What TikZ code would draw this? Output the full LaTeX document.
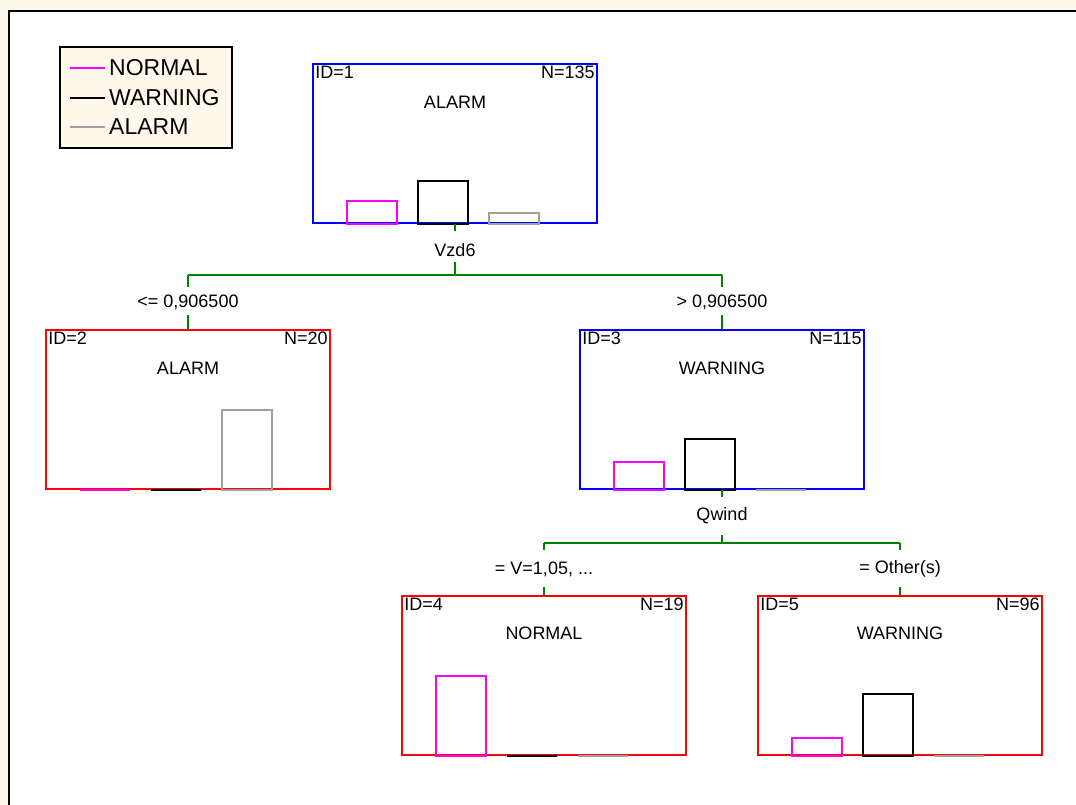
\documentclass[tikz,border=0pt]{standalone}
\usepackage{fontspec}
\setmainfont{Liberation Sans}
\usepackage{tikz}

\definecolor{paper}{HTML}{FFF9EC}
\definecolor{splitgreen}{HTML}{008000}
\definecolor{barpink}{HTML}{FF00FF}
\definecolor{bargray}{HTML}{A0A0A0}
\definecolor{boxblue}{HTML}{0000FF}
\definecolor{boxred}{HTML}{FF0000}

\tikzset{
  treebox/.style={draw, line width=1.6pt, minimum width=284pt, minimum height=159pt, inner sep=0pt},
  branch/.style={splitgreen, line width=1.5pt},
  lbl/.style={font=\fontsize{18}{20}\selectfont, inner sep=1pt},
  corner/.style={font=\fontsize{18}{20}\selectfont, inner sep=3pt},
  bar/.style={line width=1.7pt},
}
% three class bars on the bottom edge of a tree box
\newcommand{\histbars}[4]{%
  \draw[bar, barpink]  ([xshift=35pt]#1.south west)  rectangle ++(50,-#2);
  \draw[bar, black]    ([xshift=106pt]#1.south west) rectangle ++(50,-#3);
  \draw[bar, bargray]  ([xshift=177pt]#1.south west) rectangle ++(50,-#4);
}

\begin{document}
\begin{tikzpicture}[x=1pt, y=-1pt, font=\fontsize{18}{20}\selectfont]
    \useasboundingbox (0,0) rectangle (1076,805);
    \clip (0,0) rectangle (1076,805);
    \fill[paper] (0,0) rectangle (1076,805);
    \draw[line width=2pt, fill=white] (9,11) rectangle (1090,820);

    % legend
    \node[draw, fill=paper, line width=1.8pt, minimum width=172pt, minimum height=101pt, inner sep=0pt] (legend) at (146,97.5) {};
    \foreach \cls/\col/\yy in {NORMAL/barpink/68, WARNING/black/98, ALARM/bargray/127} {
      \draw[\col, line width=1.4pt] (70,\yy) -- (105,\yy);
      \node[font=\fontsize{23}{25}\selectfont, anchor=west, inner sep=1pt] (key\cls) at (108,\yy) {\cls};
    }

    % tree boxes
    \node[treebox, boxblue] (n1) at (455,143.5) {};
    \node[treebox, boxred]  (n2) at (188,409.5) {};
    \node[treebox, boxblue] (n3) at (722,409.5) {};
    \node[treebox, boxred]  (n4) at (544,675.5) {};
    \node[treebox, boxred]  (n5) at (900,675.5) {};

    \node[corner, anchor=north west] (id1) at (n1.north west) {ID=1};
    \node[corner, anchor=north east] (cnt1) at (n1.north east) {N=135};
    \node[lbl] (cls1) at ([yshift=-39pt]n1.north) {ALARM};
    \node[corner, anchor=north west] (id2) at (n2.north west) {ID=2};
    \node[corner, anchor=north east] (cnt2) at (n2.north east) {N=20};
    \node[lbl] (cls2) at ([yshift=-39pt]n2.north) {ALARM};
    \node[corner, anchor=north west] (id3) at (n3.north west) {ID=3};
    \node[corner, anchor=north east] (cnt3) at (n3.north east) {N=115};
    \node[lbl] (cls3) at ([yshift=-39pt]n3.north) {WARNING};
    \node[corner, anchor=north west] (id4) at (n4.north west) {ID=4};
    \node[corner, anchor=north east] (cnt4) at (n4.north east) {N=19};
    \node[lbl] (cls4) at ([yshift=-38pt]n4.north) {NORMAL};
    \node[corner, anchor=north west] (id5) at (n5.north west) {ID=5};
    \node[corner, anchor=north east] (cnt5) at (n5.north east) {N=96};
    \node[lbl] (cls5) at ([yshift=-38pt]n5.north) {WARNING};

    \histbars{n1}{23}{43}{11}
    \histbars{n2}{0}{0}{80}
    \histbars{n3}{28}{51}{0}
    \histbars{n4}{80}{0}{0}
    \histbars{n5}{18}{62}{0}

    % first split
    \node[lbl] (vzd) at (455,250) {Vzd6};
    \coordinate (s1) at (455,275);
    \draw[branch] (n1.south) -- ++(0,7);
    \draw[branch] (s1) ++(0,-13) -- (s1);
    \draw[branch] (n2.north |- s1) -- (n3.north |- s1);
    \draw[branch] (n2.north |- s1) -- ++(0,12);
    \draw[branch] (n3.north |- s1) -- ++(0,12);
    \node[lbl] (le1) at (188,302) {<= 0,906500};
    \node[lbl] (gt1) at (722,302) {> 0,906500};
    \draw[branch] (n2.north) -- ++(0,-14);
    \draw[branch] (n3.north) -- ++(0,-14);

    % second split
    \node[lbl] (qw) at (722,516) {Qwind};
    \coordinate (s2) at (722,543);
    \draw[branch] (n3.south) -- ++(0,7);
    \draw[branch] (s2) ++(0,-8) -- (s2);
    \draw[branch] (n4.north |- s2) -- (n5.north |- s2);
    \draw[branch] (n4.north |- s2) -- ++(0,7);
    \draw[branch] (n5.north |- s2) -- ++(0,7);
    \node[lbl] (eq1) at (544,569) {= V=1,05, ...};
    \node[lbl] (eq2) at (900,569) {= Other(s)};
    \draw[branch] (n4.north) -- ++(0,-8);
    \draw[branch] (n5.north) -- ++(0,-8);
  \end{tikzpicture}
\end{document}
